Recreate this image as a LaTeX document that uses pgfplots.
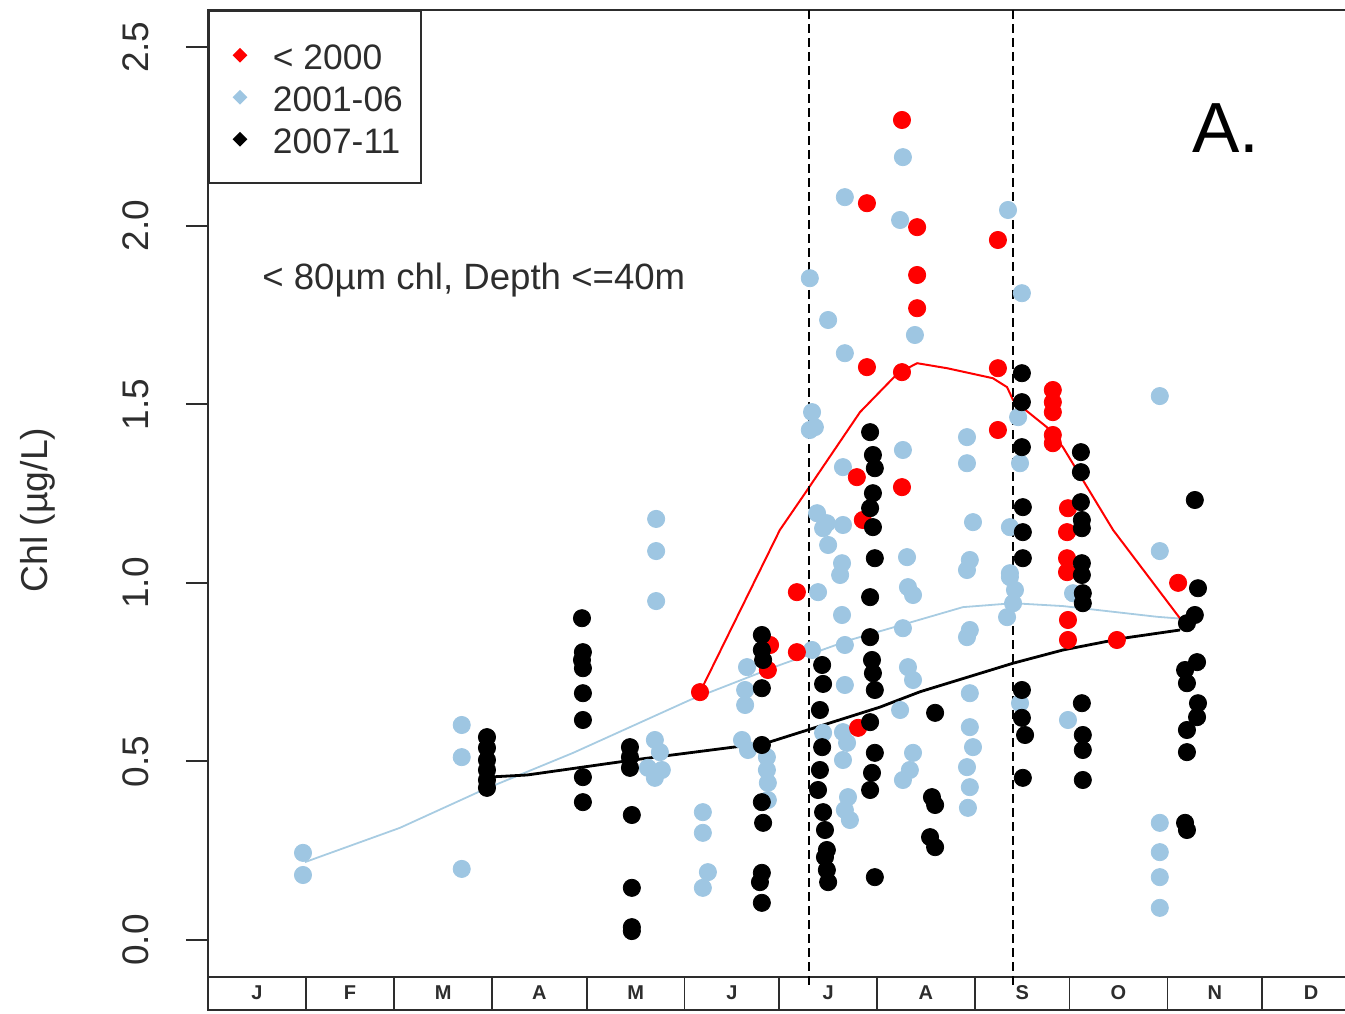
\documentclass[border=0pt]{standalone}
\usepackage{fontspec}
\setmainfont{Liberation Sans}
\usepackage{pgfplots}
\pgfplotsset{compat=1.18}
\definecolor{lblue}{RGB}{158,198,226}
\definecolor{lline}{RGB}{168,204,226}
\definecolor{frame}{RGB}{45,45,45}
\begin{document}
\begin{tikzpicture}
\path[use as bounding box] (-104pt,-1.5pt) rectangle (568.5pt,505pt);
\begin{axis}[
  at={(0,0)}, anchor=south west,
  scale only axis, width=572pt, height=500pt,
  xmin=0, xmax=362.5, ymin=-0.196, ymax=2.604,
  xtick=\empty,
  ytick={0,0.5,1,1.5,2,2.5},
  yticklabels={0.0,0.5,1.0,1.5,2.0,2.5},
  ytick pos=left, tick align=outside, major tick length=11pt,
  every tick/.style={line width=1pt, color=frame},
  axis line style={line width=1.2pt, color=frame},
  yticklabel style={rotate=90, anchor=south, font=\fontsize{18.5}{20}\selectfont, text=frame, yshift=15pt},
  ylabel={Chl (µg/L)},
  ylabel style={at={(axis description cs:-0.1486,0.5)}, anchor=center, font=\fontsize{18.7}{20}\selectfont, text=frame},
  legend style={at={(axis description cs:0,1)}, anchor=north west, draw=frame, line width=1pt,
    font=\fontsize{17.7}{20}\selectfont, inner xsep=9pt, inner ysep=15pt, row sep=6.8pt, column sep=10pt,
    nodes={inner sep=0pt, text height=14.2pt, text depth=0pt, text=frame}, cells={anchor=west}},
  legend image code/.code={\path (0pt,-6pt) (12pt,6pt); \fill[#1] (6pt,-3pt) -- (9pt,0pt) -- (6pt,3pt) -- (3pt,0pt) -- cycle;},
]
% month bar
\draw[line width=1pt, frame] (axis cs:0,-0.1036) -- (axis cs:362.5,-0.1036);
\pgfplotsinvokeforeach{31,59,90,120,151,181,212,243,273,304,334}{
  \draw[line width=0.8pt, frame] (axis cs:#1,-0.1036) -- (axis cs:#1,-0.196);
}
\node[font=\bfseries\fontsize{10}{12}\selectfont, text=frame] at (axis cs:15.5,-0.148) {J};
\node[font=\bfseries\fontsize{10}{12}\selectfont, text=frame] at (axis cs:45,-0.148) {F};
\node[font=\bfseries\fontsize{10}{12}\selectfont, text=frame] at (axis cs:74.5,-0.148) {M};
\node[font=\bfseries\fontsize{10}{12}\selectfont, text=frame] at (axis cs:105,-0.148) {A};
\node[font=\bfseries\fontsize{10}{12}\selectfont, text=frame] at (axis cs:135.5,-0.148) {M};
\node[font=\bfseries\fontsize{10}{12}\selectfont, text=frame] at (axis cs:166,-0.148) {J};
\node[font=\bfseries\fontsize{10}{12}\selectfont, text=frame] at (axis cs:196.5,-0.148) {J};
\node[font=\bfseries\fontsize{10}{12}\selectfont, text=frame] at (axis cs:227.5,-0.148) {A};
\node[font=\bfseries\fontsize{10}{12}\selectfont, text=frame] at (axis cs:258,-0.148) {S};
\node[font=\bfseries\fontsize{10}{12}\selectfont, text=frame] at (axis cs:288.5,-0.148) {O};
\node[font=\bfseries\fontsize{10}{12}\selectfont, text=frame] at (axis cs:319,-0.148) {N};
\node[font=\bfseries\fontsize{10}{12}\selectfont, text=frame] at (axis cs:349.5,-0.148) {D};
% 2001-06 points
\addplot[forget plot, only marks, mark=*, mark size=4.3pt, color=lblue] coordinates {
(30.1,0.244) (30.1,0.182)
(80.4,0.602) (80.4,0.512) (80.4,0.199)
(142.0,1.179) (142.0,1.089) (142.0,0.949)
(141.6,0.560) (143.2,0.526) (139.4,0.482) (143.8,0.476) (141.6,0.454)
(156.8,0.358) (156.8,0.300) (158.4,0.190) (156.8,0.146)
(170.8,0.764) (170.2,0.700) (170.2,0.658) (169.2,0.560) (171.1,0.532)
(177.1,0.512) (177.1,0.476) (177.4,0.440) (177.4,0.392)
(220.2,2.192) (201.8,2.080) (219.3,2.016) (190.7,1.853) (196.5,1.736) (201.8,1.643) (224.0,1.694)
(191.4,1.478) (192.3,1.436) (190.7,1.428) (220.2,1.372) (201.2,1.324)
(193.0,1.195) (196.1,1.167) (201.2,1.162) (194.9,1.153) (196.5,1.106) (200.9,1.055) (200.3,1.022)
(193.3,0.974) (200.9,0.910) (201.8,0.826) (191.4,0.812) (201.8,0.714)
(221.5,1.072) (221.8,0.988) (223.4,0.966) (220.2,0.873) (221.8,0.764) (223.4,0.728) (219.3,0.644)
(201.2,0.582) (202.5,0.552) (201.2,0.504) (223.4,0.524) (222.4,0.476) (220.2,0.448)
(202.8,0.400) (201.8,0.364) (203.4,0.336) (194.9,0.580)
(253.5,2.044) (257.9,1.811) (240.5,1.408) (240.5,1.335) (256.7,1.464) (257.3,1.335)
(242.4,1.170) (254.1,1.156) (241.4,1.064) (254.1,1.027)
(240.5,1.036) (254.1,1.016) (255.7,0.980) (255.1,0.943) (253.2,0.904) (241.4,0.868) (240.5,0.848)
(241.4,0.691) (241.4,0.596) (242.4,0.540) (240.5,0.484) (241.4,0.428) (240.8,0.370)
(257.3,0.663) (272.5,0.616) (274.1,0.971)
(301.6,1.523) (301.6,1.089) (301.6,0.328) (301.6,0.246) (301.6,0.176) (301.6,0.090)
};
% < 2000 points
\addplot[forget plot, only marks, mark=*, mark size=4.3pt, color=red] coordinates {
(155.9,0.694) (186.6,0.974) (186.6,0.806) (178.1,0.826) (177.4,0.756)
(219.9,2.296) (208.8,2.063) (224.7,1.996) (224.7,1.862) (224.7,1.769) (208.8,1.604) (219.9,1.590)
(205.6,1.296) (219.9,1.268) (207.5,1.176) (206.0,0.594)
(250.3,1.960) (250.3,1.601) (250.3,1.428)
(267.7,1.540) (267.7,1.506) (267.7,1.478) (267.7,1.414) (267.7,1.391)
(272.5,1.209) (272.2,1.142) (272.2,1.069) (272.2,1.030) (272.5,0.896) (272.5,0.840)
(288.0,0.840) (307.4,1.000)
};
% 2007-11 points
\addplot[forget plot, only marks, mark=*, mark size=4.3pt, color=black] coordinates {
(88.4,0.568) (88.4,0.538) (88.4,0.504) (88.4,0.476) (88.4,0.448) (88.4,0.426)
(118.5,0.901) (118.8,0.806) (118.5,0.784) (118.8,0.761) (118.8,0.691) (118.8,0.616) (118.8,0.456) (118.8,0.386)
(133.7,0.540) (133.7,0.512) (133.7,0.482) (134.3,0.350) (134.3,0.146) (134.3,0.036) (134.3,0.025)
(175.5,0.854) (175.5,0.812) (175.9,0.784) (175.5,0.705) (175.5,0.546) (175.5,0.386) (175.9,0.328)
(175.5,0.188) (174.9,0.162) (175.5,0.104)
(194.6,0.770) (194.9,0.717) (193.9,0.644) (194.6,0.540) (193.9,0.476) (193.3,0.420) (194.9,0.358)
(195.5,0.308) (196.1,0.252) (195.5,0.232) (196.1,0.196) (196.5,0.162)
(209.8,1.422) (210.7,1.358) (211.3,1.321) (210.7,1.251) (209.8,1.209) (210.7,1.156) (211.3,1.069)
(209.8,0.960) (209.8,0.848) (210.4,0.784) (210.7,0.747) (211.3,0.700) (209.8,0.610) (211.3,0.524)
(210.4,0.468) (209.8,0.420) (211.3,0.176)
(230.4,0.636) (229.4,0.400) (230.4,0.378) (228.8,0.288) (230.4,0.260)
(257.9,1.587) (257.9,1.506) (257.9,1.380) (258.2,1.212) (258.2,1.142) (258.2,1.069) (257.9,0.700)
(257.9,0.622) (258.9,0.574) (258.2,0.454)
(276.6,1.366) (276.6,1.310) (276.6,1.226) (276.9,1.176) (276.9,1.153) (276.9,1.055) (276.9,1.022)
(277.2,0.971) (277.2,0.943) (276.9,0.663) (277.2,0.574) (277.2,0.532) (277.2,0.448)
(312.7,1.232) (313.7,0.985) (312.7,0.910) (310.2,0.887) (313.4,0.778) (309.6,0.756) (310.2,0.719)
(313.7,0.663) (313.4,0.624) (310.2,0.588) (310.2,0.526) (309.6,0.328) (310.2,0.308)
};
% smooth lines
\addplot[forget plot, lline, line width=0.9pt] coordinates {
(30.7,0.218) (60.8,0.314) (87.1,0.42) (115.7,0.524) (152.7,0.672) (181.2,0.77) (203.4,0.84)
(239.2,0.932) (255.1,0.943) (270.9,0.935) (300.7,0.905) (308,0.90)
};
\addplot[forget plot, red, line width=1pt] coordinates {
(155.9,0.694) (181.2,1.148) (189.2,1.251) (206.6,1.478) (218.6,1.587) (224.7,1.615) (234.2,1.601)
(248.7,1.573) (253.2,1.548) (255.1,1.512) (265.8,1.436) (270.9,1.380) (286.8,1.148) (308.9,0.89)
};
\addplot[forget plot, black, line width=1.4pt] coordinates {
(88.4,0.456) (101.1,0.462) (134.7,0.504) (177.1,0.552) (190.7,0.59) (212.9,0.652) (225.6,0.695)
(255.1,0.775) (270.9,0.812) (290,0.845) (308,0.868)
};
% dashed period markers
\draw[black, line width=1pt, dash pattern=on 4.5pt off 2.5pt] (axis cs:190.4,2.604) -- (axis cs:190.4,-0.125);
\draw[black, line width=1pt, dash pattern=on 4.5pt off 2.5pt] (axis cs:255.0,2.604) -- (axis cs:255.0,-0.125);
% annotations
\node[anchor=west, font=\fontsize{18.3}{20}\selectfont, text=frame, inner sep=0pt] at (axis cs:17.1,1.848) {< 80µm chl, Depth <=40m};
\node[font=\fontsize{35.5}{40}\selectfont, text=black, inner sep=0pt] at (axis cs:322.6,2.273) {A.};
% legend
\addlegendimage{red}
\addlegendentry{< 2000}
\addlegendimage{lblue}
\addlegendentry{2001-06}
\addlegendimage{black}
\addlegendentry{2007-11}
\end{axis}
\end{tikzpicture}
\end{document}
